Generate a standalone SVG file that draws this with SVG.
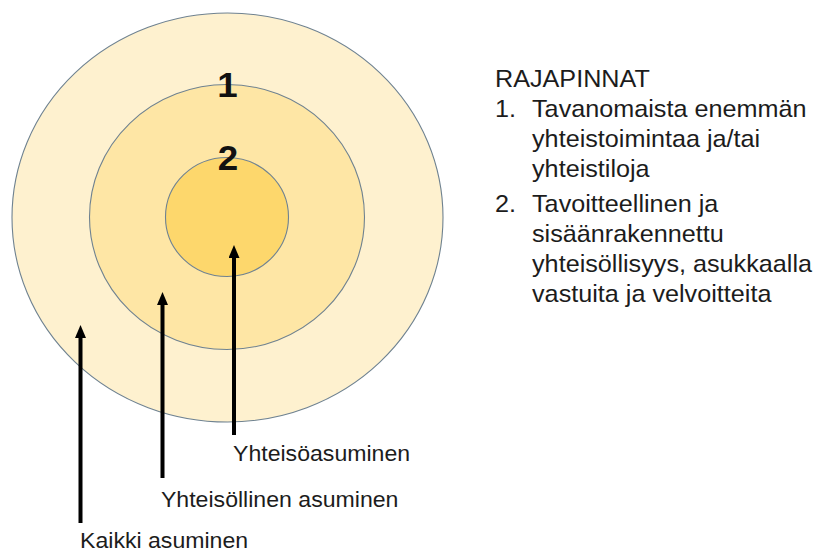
<svg xmlns="http://www.w3.org/2000/svg" width="821" height="553" viewBox="0 0 821 553">
  <style>
    .ring { stroke: #6f8290; stroke-width: 1.1; }
    .lbl { font-family: "Liberation Sans", Arial, sans-serif; font-size: 22px; fill: #1c1c1c; }
    .leg { font-family: "Liberation Sans", Arial, sans-serif; font-size: 24px; fill: #1c1c1c; }
    .num { font-family: "Liberation Sans", Arial, sans-serif; font-size: 35px; font-weight: bold; fill: #111; text-anchor: middle; }
    .arrow { stroke: #000; stroke-width: 4; fill: none; marker-end: url(#head); }
  </style>
  <defs>
    <marker id="head" markerUnits="userSpaceOnUse" markerWidth="14" markerHeight="12" refX="0" refY="5.5" orient="auto">
      <path d="M0,0 L13,5.5 L0,11 z" fill="#000"/>
    </marker>
  </defs>
  <rect width="821" height="553" fill="#ffffff"/>

  <g id="ring-kaikki">
    <ellipse class="ring" cx="227.5" cy="217.5" rx="215.5" ry="204.5" fill="#fef1cf"/>
  </g>
  <g id="ring-yhteisollinen">
    <ellipse class="ring" cx="227" cy="217" rx="137.5" ry="132.5" fill="#fee6a5"/>
  </g>
  <g id="ring-yhteiso">
    <ellipse class="ring" cx="227" cy="217" rx="61.5" ry="59.5" fill="#fdd76c"/>
  </g>

  <g id="boundary-1">
    <text class="num" transform="scale(1.05 1)" x="216.7" y="97">1</text>
  </g>
  <g id="boundary-2">
    <text class="num" transform="scale(1.05 1)" x="217.1" y="170">2</text>
  </g>

  <g id="connectors">
    <line class="arrow" x1="80.5" y1="523" x2="80.5" y2="338"/>
    <line class="arrow" x1="162.5" y1="478" x2="162.5" y2="305"/>
    <line class="arrow" x1="234" y1="435" x2="234" y2="258"/>
  </g>

  <g id="label-yhteisoasuminen">
    <text class="lbl" transform="scale(1.05 1)" x="221.9" y="461">Yhteisöasuminen</text>
  </g>
  <g id="label-yhteisollinen">
    <text class="lbl" transform="scale(1.05 1)" x="153.3" y="507">Yhteisöllinen asuminen</text>
  </g>
  <g id="label-kaikki">
    <text class="lbl" transform="scale(1.05 1)" x="76.2" y="548">Kaikki asuminen</text>
  </g>

  <g id="legend" transform="scale(1.05 1)">
    <text class="leg" x="471.4" y="87">RAJAPINNAT</text>
    <text class="leg" x="471.4" y="117">1.</text>
    <text class="leg" x="506.7" y="117">Tavanomaista enemmän</text>
    <text class="leg" x="506.7" y="147">yhteistoimintaa ja/tai</text>
    <text class="leg" x="506.7" y="177">yhteistiloja</text>
    <text class="leg" x="471.4" y="212">2.</text>
    <text class="leg" x="506.7" y="212">Tavoitteellinen ja</text>
    <text class="leg" x="506.7" y="242">sisäänrakennettu</text>
    <text class="leg" x="506.7" y="272">yhteisöllisyys, asukkaalla</text>
    <text class="leg" x="506.7" y="302">vastuita ja velvoitteita</text>
  </g>
</svg>
